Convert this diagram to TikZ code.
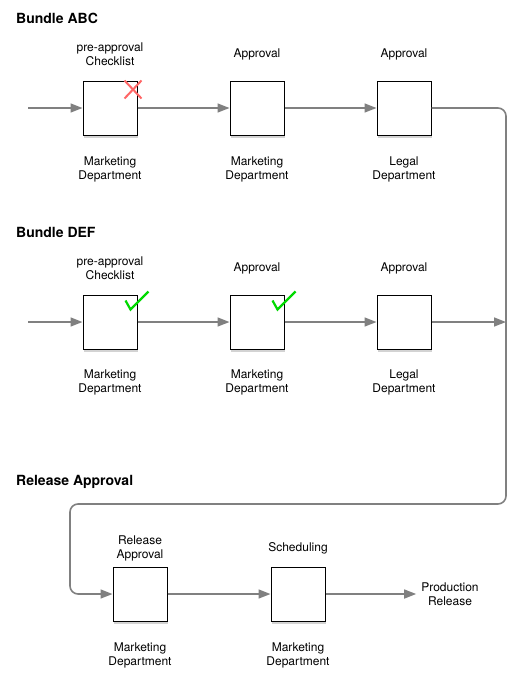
\documentclass[tikz,border=0pt]{standalone}
\usepackage{fontspec}
\setmainfont{TeX Gyre Heros}
\usepackage{tikz}
\usetikzlibrary{
	arrows.meta,
	calc,
	positioning,
	shadows,
}
\tikzset{task/.style={
	draw,
	fill=white,
	line width=1pt,
	minimum size=54pt,
	inner sep=0pt,
	drop shadow={shadow xshift=1pt, shadow yshift=-3pt, opacity=0.35},
}}
\tikzset{lbl/.style={
	align=center,
	font=\fontsize{12}{14}\selectfont,
}}
\tikzset{heading/.style={
	anchor=west,
	inner sep=0pt,
	font=\fontsize{14}{16}\selectfont\bfseries,
}}
\tikzset{flow/.style={
	draw=black!50,
	line width=1.6pt,
	-{Triangle[length=12pt,width=9pt]},
}}
\tikzset{cross/.style={draw=red!60, line width=2pt}}
\tikzset{tick/.style={draw=green!85!black, line width=2.2pt}}

\begin{document}
\begin{tikzpicture}[x=1pt,y=-1pt]
\useasboundingbox (0,0) rectangle (518,680);

\node[heading] (abc) at (16,18) {Bundle ABC};
\node[heading] (def) at (16,232) {Bundle DEF};
\node[heading] (rel) at (16,482) {Release Approval};

\foreach[count=\i] \x/\hd/\dept in {
	110/{pre-approval\\Checklist}/{Marketing\\Department},
	257/{Approval}/{Marketing\\Department},
	404/{Approval}/{Legal\\Department}%
}{
	\node[task] (a\i) at (\x,108) {};
	\node[lbl] (a\i hd) at (\x,54) {\hd};
	\node[lbl] (a\i dept) at (\x,169) {\dept};
	\node[task] (d\i) at (\x,322) {};
	\node[lbl] (d\i hd) at (\x,268) {\hd};
	\node[lbl] (d\i dept) at (\x,382) {\dept};
}

\foreach[count=\i] \x/\hd in {
	140/{Release\\Approval},
	298/{Scheduling}%
}{
	\node[task] (r\i) at (\x,594) {};
	\node[lbl] (r\i hd) at (\x,548) {\hd};
	\node[lbl] (r\i dept) at (\x,655) {Marketing\\Department};
}
\node[lbl, inner sep=5pt] (prod) at (450,594) {Production\\Release};

\coordinate (inA) at (28,108);
\coordinate (inD) at (28,322);
\coordinate (joinA) at (506,108);
\coordinate (joinD) at (506,322);
\coordinate (down) at (506,504);
\coordinate (back) at (70,504);
\coordinate (inR) at (70,594);

\draw[flow] (inA) -- (a1.west);
\draw[flow] (inD) -- (d1.west);
\foreach \u \v in {1/2,2/3}{
	\draw[flow] (a\u) -- (a\v);
	\draw[flow] (d\u) -- (d\v);
}
\draw[flow] (d3.east) -- (joinD);
\draw[flow, rounded corners=8pt] (a3.east) -- (joinA) -- (down) -- (back) -- (inR) -- (r1.west);
\draw[flow] (r1) -- (r2);
\draw[flow] (r2.east) -- (prod.west);

% marks on the checklist boxes
\draw[cross] ([shift={(-13,0)}]a1.north east) -- ++(17,18);
\draw[cross] ([shift={(4,0)}]a1.north east) -- ++(-17,18);
\draw[tick] ([shift={(-12,6)}]d1.north east) -- ++(5,9) -- ++(18,-18);
\draw[tick] ([shift={(-12,6)}]d2.north east) -- ++(5,9) -- ++(18,-18);
\end{tikzpicture}
\end{document}
